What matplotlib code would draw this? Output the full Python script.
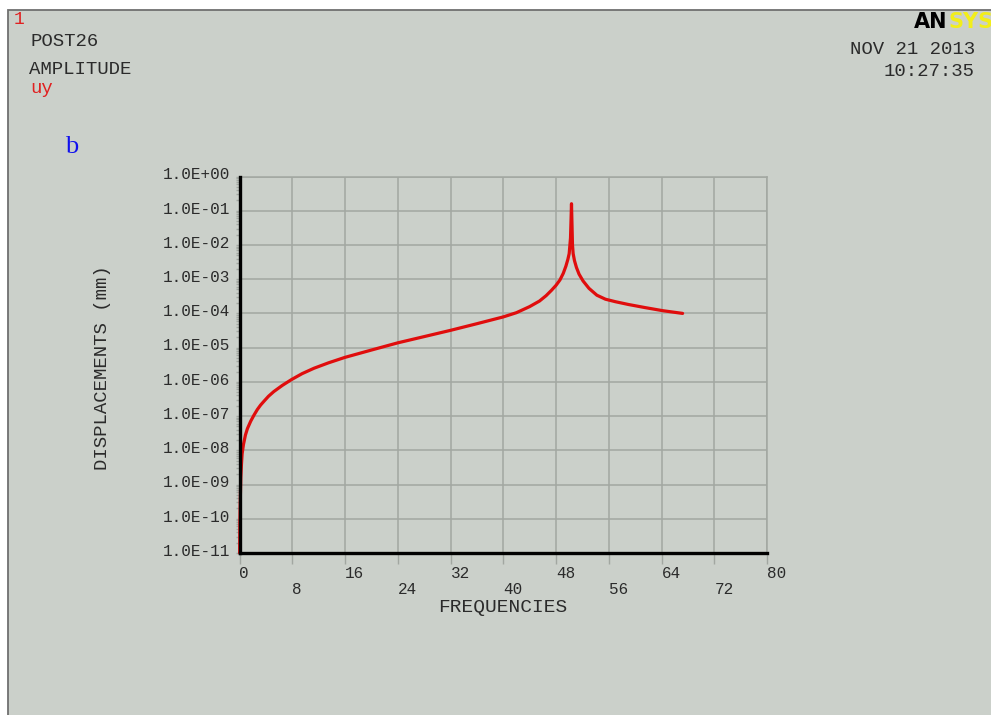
import numpy as np
import matplotlib.pyplot as plt
import matplotlib.transforms as mtransforms
from matplotlib.patches import Rectangle
from matplotlib.ticker import FixedLocator, FuncFormatter, LogLocator, NullFormatter

# values (frequency, uy amplitude in mm)
freq = [0.02, 0.05, 0.1, 0.2, 0.3, 0.4, 0.6, 0.9, 1.2, 1.7, 2.2, 2.7, 3.2,
        3.7, 4.4, 5.2, 6.5, 7.9, 9.5, 11.3, 13.5, 16.0, 20.0, 24.0, 28.0,
        32.0, 36.0, 40.0, 42.0, 44.0, 45.5, 46.5, 47.3, 48.0, 48.6, 49.1,
        49.5, 49.8, 50.0, 50.2, 50.35, 50.5, 50.6, 50.8, 51.1, 51.5, 52.1,
        53.0, 54.2, 55.5, 57.0, 59.0, 61.5, 64.2, 67.2]
disp = [1.0e-11, 6.3e-11, 2.5e-10, 1.6e-09, 4.0e-09, 7.9e-09, 1.48e-08,
        2.8e-08, 4.3e-08, 7.1e-08, 1.07e-07, 1.55e-07, 2.1e-07,
        2.7e-07, 3.8e-07, 5.2e-07, 7.9e-07, 1.17e-06, 1.74e-06, 2.5e-06,
        3.6e-06, 5.2e-06, 8.5e-06, 1.38e-05, 2.1e-05,
        3.2e-05, 5.0e-05, 7.9e-05, 1.05e-04, 1.58e-04, 2.3e-04, 3.3e-04,
        4.7e-04, 6.6e-04, 9.5e-04, 1.48e-03,
        2.4e-03, 3.8e-03, 5.6e-03, 1.6e-02, 1.6e-01, 1.0e-02, 5.6e-03,
        3.5e-03, 2.2e-03, 1.4e-03, 8.9e-04,
        5.4e-04, 3.4e-04, 2.6e-04, 2.2e-04, 1.82e-04, 1.48e-04, 1.2e-04,
        1.0e-04]

xticks_top = [0, 16, 32, 48, 64, 80]
xticks_low = [8, 24, 40, 56, 72]
yticks = [10.0 ** k for k in range(-11, 1)]

bg = '#cbd0ca'
grid_c = '#a2a7a1'
txt_c = '#2b2b2b'
mono = 'Liberation Mono'

fig = plt.figure(figsize=(9.91, 7.15), dpi=100)
fig.patches.append(Rectangle((8 / 991, -0.01), 1.0, 1.01 - 10 / 715,
                             transform=fig.transFigure, facecolor=bg,
                             edgecolor='#707070', linewidth=1.3, zorder=-10))

ax = fig.add_axes([239.5 / 991, 162 / 715, 527.5 / 991, 376.5 / 715])
ax.set_facecolor(bg)
ax.set_yscale('log')
ax.set_xlim(0, 80)
ax.set_ylim(1e-11, 1e0)

ax.plot(freq, disp, color='#e00d0d', linewidth=2.3, solid_joinstyle='round',
        solid_capstyle='round', zorder=5, clip_on=False)

# axes / grid like the ANSYS graph
for side in ['left', 'bottom']:
    ax.spines[side].set_color('black')
    ax.spines[side].set_linewidth(2.4)
    ax.spines[side].set_zorder(6)
for side in ['top', 'right']:
    ax.spines[side].set_color(grid_c)
    ax.spines[side].set_linewidth(1.1)

ax.xaxis.set_major_locator(FixedLocator(xticks_top))
ax.xaxis.set_minor_locator(FixedLocator(xticks_low))
ax.xaxis.set_major_formatter(FuncFormatter(lambda v, p: '%d' % v))
ax.xaxis.set_minor_formatter(FuncFormatter(lambda v, p: '%d' % v))
ax.tick_params(axis='x', which='both', direction='out', length=8, width=1,
               color=grid_c, labelcolor=txt_c, labelsize=11.5)
ax.tick_params(axis='x', which='major', pad=1)
ax.tick_params(axis='x', which='minor', pad=13)
for lab in ax.get_xticklabels(which='both'):
    lab.set_fontfamily(mono)
    lab.set_ha('left')

ax.yaxis.set_major_locator(FixedLocator(yticks))
ax.yaxis.set_minor_locator(LogLocator(base=10, subs=np.arange(2, 10), numticks=20))
ax.yaxis.set_major_formatter(FuncFormatter(lambda v, p: '%.1E' % v))
ax.yaxis.set_minor_formatter(NullFormatter())
ax.tick_params(axis='y', which='both', direction='out', length=3, width=1,
               color=grid_c, labelcolor=txt_c, labelsize=11.5, pad=3.5)
shift = mtransforms.ScaledTranslation(0, -2 / 72, fig.dpi_scale_trans)
for lab in ax.get_yticklabels():
    lab.set_fontfamily(mono)
    lab.set_va('baseline')
    lab.set_transform(lab.get_transform() + shift)

ax.grid(True, which='major', axis='both', color=grid_c, linewidth=1.1)
ax.grid(True, which='minor', axis='x', color=grid_c, linewidth=1.1)
ax.set_axisbelow(True)

ax.set_xlabel('FREQUENCIES', fontfamily=mono, fontsize=14, color=txt_c)
ax.xaxis.set_label_coords(0.5, -0.146)
ax.xaxis.label.set_va('center')
ax.set_ylabel('DISPLACEMENTS (mm)', fontfamily=mono, fontsize=13.7, color=txt_c)
ax.yaxis.set_label_coords(-0.259, 0.493)
ax.yaxis.label.set_va('center')

# header texts (pixel positions of the ANSYS window)
def px(x, y):
    return x / 991, 1 - y / 715

fig.text(*px(14, 20), '1', color='#e02020', fontfamily=mono, fontsize=13, va='center')
fig.text(*px(31, 42), 'POST26', color=txt_c, fontfamily=mono, fontsize=13.7, va='center')
fig.text(*px(29, 70), 'AMPLITUDE', color=txt_c, fontfamily=mono, fontsize=13.7, va='center')
fig.text(*px(30, 93), 'uy', color='#e02020', fontfamily=mono, fontsize=13.7, va='baseline')
fig.text(*px(975, 49), 'NOV 21 2013', color=txt_c, fontfamily=mono, fontsize=13.7,
         ha='right', va='center')
fig.text(*px(975, 71), '10:27:35', color=txt_c, fontfamily=mono, fontsize=13.7,
         ha='right', va='center')
# logo is cut at the right edge in the original window too
fig.text(*px(914, 28), 'AN', color='black', fontfamily='DejaVu Sans', fontweight='heavy',
         fontsize=15, va='baseline')
fig.text(*px(948, 28), 'SYS', color='#f2ee1a', fontfamily='DejaVu Sans', fontweight='heavy',
         fontsize=15, va='baseline')
fig.text(*px(65, 153), 'b', color='#1010ee', fontfamily='Liberation Serif', fontsize=19,
         va='baseline')

fig.savefig('out.png', dpi=100, facecolor='white')
